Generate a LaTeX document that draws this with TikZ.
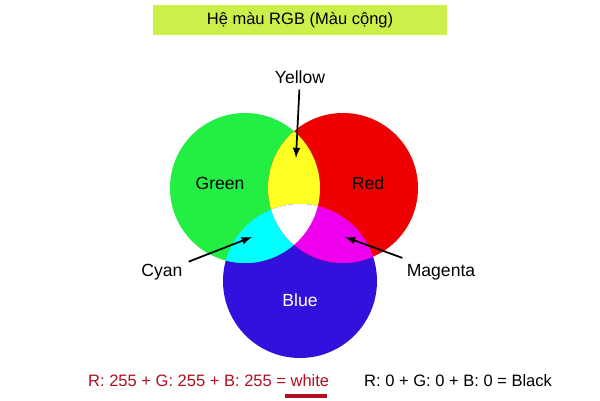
\documentclass[tikz,border=0pt]{standalone}
\usepackage{fontspec}
\setmainfont{Liberation Sans}
\begin{document}
\begin{tikzpicture}[x=0.02cm,y=-0.02cm,
  lbl/.style={font=\fontsize{10}{12}\selectfont},
  sml/.style={font=\fontsize{9.4}{11}\selectfont},
  arr/.style={-latex,line width=1pt}]
\useasboundingbox (0,0) rectangle (600,400);
\fill[white] (0,0) rectangle (600,400);
\definecolor{colg}{HTML}{22EE44}\definecolor{colr}{HTML}{EE0000}\definecolor{colb}{HTML}{3311DD}
\definecolor{coly}{HTML}{FFFF22}\definecolor{colc}{HTML}{00FFFF}\definecolor{colm}{HTML}{EE00EE}
\definecolor{coltb}{HTML}{CCF04A}\definecolor{coldr}{HTML}{B01020}
\node[fill=coltb,minimum width=294*0.02cm,minimum height=30*0.02cm,sml] (title) at (300,20) {Hệ màu RGB (Màu cộng)};
\def\G{(245,188) circle (75)}\def\R{(343,188) circle (75)}\def\B{(300,281) circle (77)}
\fill[colb] \B; \fill[colg] \G; \fill[colr] \R;
\begin{scope}\clip \G; \fill[coly] \R; \end{scope}
\begin{scope}\clip \G; \fill[colc] \B; \end{scope}
\begin{scope}\clip \R; \fill[colm] \B; \end{scope}
\begin{scope}\clip \G; \clip \R; \fill[white] \B; \end{scope}
\node[lbl] (green) at (220,183) {Green};
\node[lbl] (red) at (368,183) {Red};
\node[lbl,white] (blue) at (300,300) {Blue};
\node[lbl] (yellow) at (300,77) {Yellow};
\node[lbl] (cyan) at (162,272) {Cyan};
\node[lbl] (magenta) at (441,272) {Magenta};
\coordinate (py) at (296,158); \coordinate (pc) at (252,237); \coordinate (pm) at (345,237);
\draw[arr] (yellow) -- (py);
\draw[arr] (cyan) -- (pc);
\draw[arr] (magenta) -- (pm);
\node[sml,text=coldr,anchor=west] (f1) at (82,381) {R: 255 + G: 255 + B: 255 = white};
\draw[coldr,line width=2pt] (285,396) -- (327,396);
\node[sml,anchor=west] (f2) at (358,381) {R: 0 + G: 0 + B: 0 = Black};
\end{tikzpicture}
\end{document}
